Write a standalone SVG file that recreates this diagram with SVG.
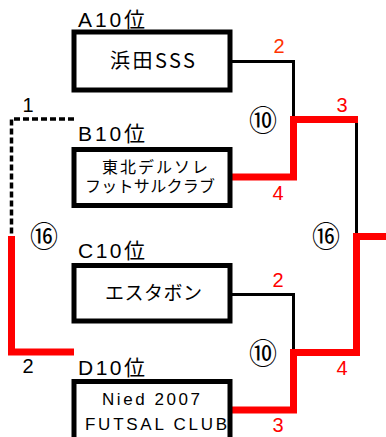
<svg xmlns="http://www.w3.org/2000/svg" width="386" height="437" viewBox="0 0 386 437">
<style>
.box{fill:#fff;stroke:#000;stroke-width:5}
.lbl{font-family:"Liberation Sans","Noto Sans CJK JP",sans-serif;font-size:21px;fill:#000}
.jp{font-family:"Noto Sans CJK JP","Liberation Sans",sans-serif;fill:#000}
.en{font-family:"Liberation Sans","Noto Sans CJK JP",sans-serif;fill:#000}
.blk{fill:none;stroke:#000;stroke-width:3}
.red{fill:none;stroke:#f00;stroke-width:7;stroke-linejoin:miter}
.dash{fill:none;stroke:#000;stroke-width:3.5;stroke-dasharray:6 3}
.sc{font-family:"Liberation Sans",sans-serif;font-size:20px;fill:#f00;text-anchor:middle}
.sk{font-family:"Liberation Sans",sans-serif;font-size:20px;fill:#000;text-anchor:middle}
.circ{font-family:"Noto Sans CJK JP",sans-serif;font-size:28px;fill:#000;text-anchor:middle;dominant-baseline:central}
</style>
<g id="connectors">
<polyline class="blk" points="230,61.5 293.5,61.5 293.5,119"/>
<polyline class="blk" points="230,294.5 293.5,294.5 293.5,352"/>
<polyline class="blk" points="356.5,119 356.5,236"/>
<polyline class="red" points="232,177 293.5,177 293.5,119.5 358,119.5"/>
<polyline class="red" points="232,410 293.5,410 293.5,352.5 356.5,352.5 356.5,236.5 386,236.5"/>
<polyline class="dash" points="74,119 11.5,119 11.5,236"/>
<polyline class="red" points="11.5,236 11.5,352 74,352"/>
</g>
<g id="nodeA">
<text class="lbl" x="78" y="27" textLength="67" lengthAdjust="spacing">A10位</text>
<rect class="box" x="74" y="32" width="156" height="58"/>
<text class="jp" x="152.5" y="68" font-size="20" text-anchor="middle" textLength="85" lengthAdjust="spacing">浜田SSS</text>
</g>
<g id="nodeB">
<text class="lbl" x="78" y="141" textLength="67" lengthAdjust="spacing">B10位</text>
<rect class="box" x="74" y="149.5" width="156" height="56"/>
<text class="en" x="155" y="173" font-size="16" text-anchor="middle" textLength="106" lengthAdjust="spacing">東北デルソレ</text>
<text class="en" x="150" y="191.5" font-size="16" text-anchor="middle" textLength="130" lengthAdjust="spacing">フットサルクラブ</text>
</g>
<g id="nodeC">
<text class="lbl" x="78" y="258" textLength="67" lengthAdjust="spacing">C10位</text>
<rect class="box" x="74" y="265.5" width="156" height="55.5"/>
<text class="jp" x="153.5" y="300" font-size="19" text-anchor="middle" textLength="97" lengthAdjust="spacing">エスタボン</text>
</g>
<g id="nodeD">
<text class="lbl" x="78" y="375" textLength="67" lengthAdjust="spacing">D10位</text>
<rect class="box" x="74" y="381.5" width="156" height="70"/>
<text class="en" x="151" y="405" font-size="17" text-anchor="middle" textLength="98" lengthAdjust="spacing">Nied  2007</text>
<text class="en" x="156" y="430" font-size="17" text-anchor="middle" textLength="142" lengthAdjust="spacing">FUTSAL  CLUB</text>
</g>
<g id="scores">
<text class="sc" x="279" y="53" style="fill:#ff3300">2</text>
<text class="sc" x="342" y="112">3</text>
<text class="sc" x="278" y="200">4</text>
<text class="sc" x="278" y="287">2</text>
<text class="sc" x="342" y="375">4</text>
<text class="sc" x="278" y="432">3</text>
<text class="sk" x="28" y="112">1</text>
<text class="sk" x="28" y="373">2</text>
</g>
<g id="matches">
<text class="circ" x="263" y="119">⑩</text>
<text class="circ" x="263" y="352">⑩</text>
<text class="circ" x="326" y="235">⑯</text>
<text class="circ" x="44" y="235">⑯</text>
</g>
</svg>
